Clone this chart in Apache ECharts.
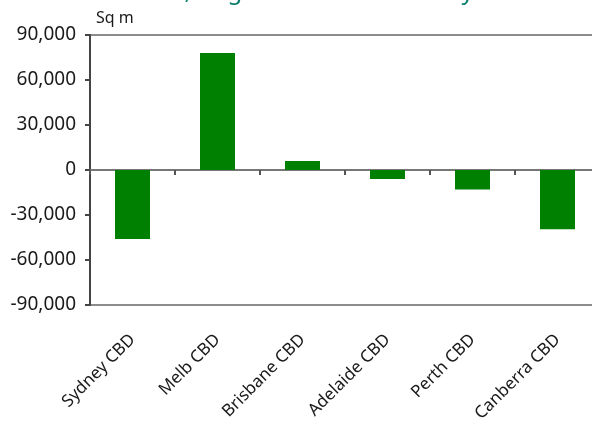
<!DOCTYPE html>
<html>
<head>
<meta charset="utf-8">
<script src="https://cdn.jsdelivr.net/npm/echarts@6/dist/echarts.min.js"></script>
<style>
  html, body { margin: 0; padding: 0; background: #fff; }
  #chart { width: 592px; height: 421px; }
</style>
</head>
<body>
<div id="chart"></div>
<script>
// Net change in office floor space by CBD market (square metres)
const categories = ['Sydney CBD', 'Melb CBD', 'Brisbane CBD', 'Adelaide CBD', 'Perth CBD', 'Canberra CBD'];
const netChange = [-46000, 78000, 6000, -6000, -13000, -39500];
const yTicks = [-90000, -60000, -30000, 0, 30000, 60000, 90000];

const FONT = '"Noto Sans", "Open Sans", sans-serif';
const fmt = v => (v < 0 ? '-' : '') + Math.abs(v).toLocaleString('en-US');

const chart = echarts.init(document.getElementById('chart'), null, { renderer: 'canvas' });

chart.setOption({
  animation: false,
  backgroundColor: '#ffffff',
  grid: {
    left: 90, top: 35, width: 510, height: 270,
    containLabel: false, outerBoundsMode: 'none',
    show: true, borderColor: '#8c8c8c', borderWidth: 2, backgroundColor: 'transparent'
  },
  graphic: [
    {
      type: 'text', left: 33, top: -20, silent: true,
      style: { text: 'Net additions, Aug 2009 to Feb 2010 by CBD', fill: '#0a7f6c', font: '24px ' + FONT }
    },
    {
      type: 'text', left: 96, top: 10, silent: true,
      style: { text: 'Sq m', fill: '#1a1a1a', font: '16px ' + FONT }
    }
  ],
  xAxis: [
    {
      // category labels along the bottom of the plot
      type: 'category', data: categories, position: 'bottom',
      axisLine: { show: false, onZero: false },
      axisTick: { show: false },
      splitLine: { show: false },
      axisLabel: { rotate: 45, margin: 32, color: '#1a1a1a', fontSize: 17, fontFamily: FONT, interval: 0 }
    },
    {
      // zero line with boundary ticks
      type: 'category', data: categories, position: 'bottom',
      axisLine: { show: true, onZero: true, lineStyle: { color: '#777', width: 2 } },
      axisTick: { show: true, interval: 0, length: 5, lineStyle: { color: '#555', width: 2 } },
      axisLabel: { show: false, interval: 0 },
      splitLine: { show: false }
    }
  ],
  yAxis: {
    type: 'value',
    min: yTicks[0], max: yTicks[yTicks.length - 1], interval: 30000,
    axisLine: { show: true, lineStyle: { color: '#444', width: 2 } },
    axisTick: { show: true, length: 5, lineStyle: { color: '#444', width: 2 } },
    splitLine: { show: false },
    axisLabel: { margin: 14, color: '#1a1a1a', fontSize: 19, fontFamily: FONT, formatter: fmt }
  },
  series: [
    {
      type: 'bar', data: netChange, xAxisIndex: 0, barWidth: 35,
      itemStyle: { color: '#008000' }
    }
  ]
});
</script>
</body>
</html>
